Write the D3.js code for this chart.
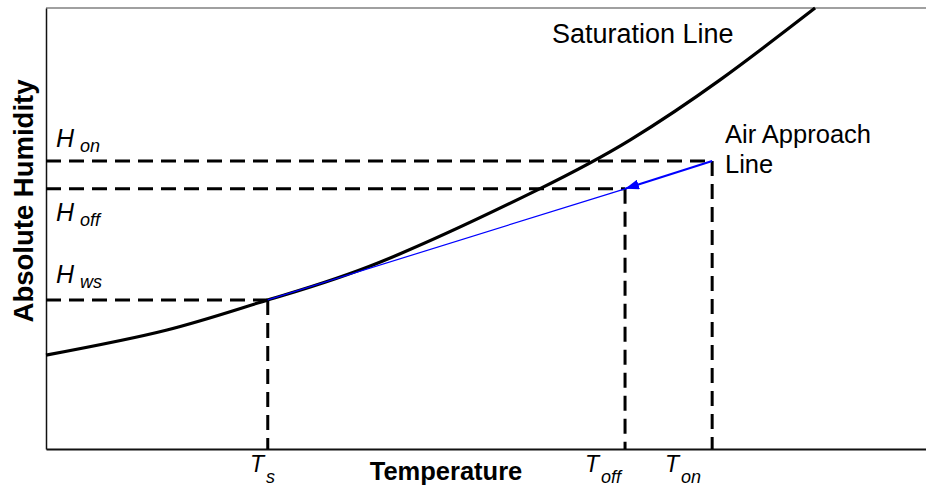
<!DOCTYPE html>
<html>
<head>
<meta charset="utf-8">
<script src="https://cdn.jsdelivr.net/npm/d3@7"></script>
<style>
  body { margin: 0; background: #fff; }
  svg text { font-family: Arial, "Liberation Sans", sans-serif; fill: #000; }
</style>
</head>
<body>
<div class="svg-content"></div>
<script>
// saturation curve (temperature, humidity in arbitrary units)
const satTemp = [0, 13.75, 25.2, 38.0, 55.8, 66.4, 76.6, 87.4];
const satHum = [21.3, 27.0, 33.8, 42.4, 58.7, 70.1, 83.7, 100];

// marked states
const stateNames = ["s", "off", "on"];
const stateTemp = [25.2, 65.8, 75.7];
const stateHum = [33.8, 59.0, 65.3];
const humLabels = ["ws", "off", "on"];

const svgWidth = 926;
const svgHeight = 486;
const margin = { left: 46, right: 0, top: 8, bottom: 37 };

const svg = d3.select(".svg-content")
  .append("svg")
  .attr("width", svgWidth)
  .attr("height", svgHeight);

const xScale = d3.scaleLinear()
  .domain([0, 100])
  .range([margin.left, svgWidth - margin.right]);

const yScale = d3.scaleLinear()
  .domain([0, 100])
  .range([svgHeight - margin.bottom, margin.top]);

// frame
svg.append("line")
  .attr("x1", xScale(0)).attr("x2", xScale(100))
  .attr("y1", yScale(100)).attr("y2", yScale(100))
  .attr("stroke", "#808080").attr("stroke-width", 1.5);

svg.append("g")
  .attr("transform", "translate(0," + yScale(0) + ")")
  .call(d3.axisBottom(xScale).tickValues([]).tickSizeOuter(0))
  .select(".domain").attr("stroke", "#111").attr("stroke-width", 2);

svg.append("g")
  .attr("transform", "translate(" + xScale(0) + ",0)")
  .call(d3.axisLeft(yScale).tickValues([]).tickSizeOuter(0))
  .select(".domain").attr("stroke", "#111").attr("stroke-width", 1.5);

// dashed guides
const guides = svg.append("g")
  .attr("stroke", "#000")
  .attr("stroke-width", 3)
  .attr("stroke-dasharray", "15,8")
  .attr("fill", "none");

stateTemp.forEach((t, i) => {
  guides.append("line")
    .attr("x1", xScale(0)).attr("x2", xScale(t))
    .attr("y1", yScale(stateHum[i])).attr("y2", yScale(stateHum[i]));
  guides.append("line")
    .attr("x1", xScale(t)).attr("x2", xScale(t))
    .attr("y1", yScale(stateHum[i])).attr("y2", yScale(0));
});

// saturation line
const satLine = d3.line()
  .x((d, i) => xScale(satTemp[i]))
  .y(d => yScale(d))
  .curve(d3.curveNatural);

svg.append("path")
  .datum(satHum)
  .attr("d", satLine)
  .attr("fill", "none")
  .attr("stroke", "#000")
  .attr("stroke-width", 3.2);

// air approach line
svg.append("defs").append("marker")
  .attr("id", "arrow")
  .attr("viewBox", "0 0 14 10")
  .attr("refX", 14).attr("refY", 5)
  .attr("markerWidth", 14).attr("markerHeight", 10)
  .attr("markerUnits", "userSpaceOnUse")
  .attr("orient", "auto")
  .append("path")
  .attr("d", "M0,0 L14,5 L0,10 Z")
  .attr("fill", "#0000ff");

svg.append("line")
  .attr("x1", xScale(stateTemp[1])).attr("y1", yScale(stateHum[1]))
  .attr("x2", xScale(stateTemp[0])).attr("y2", yScale(stateHum[0]))
  .attr("stroke", "#0000ff").attr("stroke-width", 1.2);

svg.append("line")
  .attr("x1", xScale(stateTemp[2])).attr("y1", yScale(stateHum[2]))
  .attr("x2", xScale(stateTemp[1])).attr("y2", yScale(stateHum[1]))
  .attr("stroke", "#0000ff").attr("stroke-width", 2.2)
  .attr("marker-end", "url(#arrow)");

// humidity labels
const humLabelY = [283, 221, 147];
humLabels.forEach((s, i) => {
  const t = svg.append("text")
    .attr("x", 56).attr("y", humLabelY[i])
    .style("font-style", "italic");
  t.append("tspan").style("font-size", "25px").text("H");
  t.append("tspan").attr("x", 80).attr("dy", 5).style("font-size", "18px").text(s);
});

// temperature labels
const tempLabelX = [250, 585, 665];
stateNames.forEach((s, i) => {
  const t = svg.append("text")
    .attr("x", tempLabelX[i]).attr("y", 472)
    .style("font-style", "italic");
  t.append("tspan").style("font-size", "23px").text("T");
  t.append("tspan").attr("x", tempLabelX[i] + 16).attr("dy", 11).style("font-size", "18px").text(s);
});

// axis titles
svg.append("text")
  .attr("x", 446).attr("y", 480)
  .attr("text-anchor", "middle")
  .style("font-size", "25.5px").style("font-weight", "bold")
  .text("Temperature");

svg.append("text")
  .attr("transform", "translate(33,201) rotate(-90)")
  .attr("text-anchor", "middle")
  .style("font-size", "27.5px").style("font-weight", "bold")
  .text("Absolute Humidity");

// annotations
svg.append("text")
  .attr("x", 552).attr("y", 43)
  .style("font-size", "27px")
  .text("Saturation Line");

svg.append("text")
  .attr("x", 725).attr("y", 143)
  .style("font-size", "25.5px")
  .text("Air Approach");

svg.append("text")
  .attr("x", 725).attr("y", 173)
  .style("font-size", "25.5px")
  .text("Line");
</script>
</body>
</html>
